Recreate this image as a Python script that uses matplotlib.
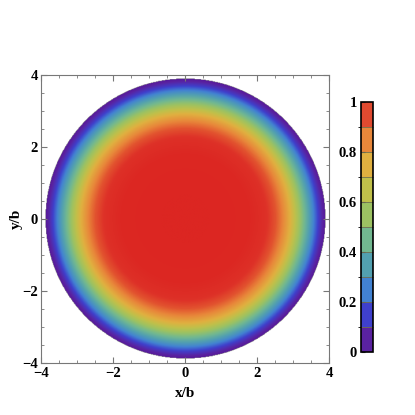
"""Radial density map with discrete colour legend."""
import matplotlib.pyplot as plt
import numpy as np
from matplotlib.colors import LinearSegmentedColormap, ListedColormap, BoundaryNorm
from matplotlib.ticker import MultipleLocator

# radial profile (r in units of b, value)
radius = [0.0, 1.8, 2.2, 2.5, 2.7, 2.9, 3.1, 3.3, 3.5, 3.7, 3.88]
value = [1.0, 0.99, 0.96, 0.91, 0.85, 0.75, 0.60, 0.45, 0.30, 0.13, 0.0]

# colour bands of the legend, bottom to top
band_colors = ["#5a22a0", "#3f40cc", "#4282d2", "#52a0b0", "#72b890",
               "#9cc262", "#c0c04a", "#e0b040", "#e8873a", "#e04a30"]
cbar_ticks = [0, 0.2, 0.4, 0.6, 0.8, 1]
axis_ticks = [-4, -2, 0, 2, 4]

plt.rcParams["font.family"] = ["Liberation Serif", "DejaVu Serif"]
plt.rcParams["font.weight"] = "bold"

cmap = LinearSegmentedColormap.from_list(
    "rainbow_m",
    [(0.0, "#56189a")] + [((i + 0.5) / 10, c) for i, c in enumerate(band_colors[:-1])]
    + [(0.95, "#de3228"), (1.0, "#dc2622")],
)

n = 500
xs = np.linspace(-4, 4, n)
X, Y = np.meshgrid(xs, xs)
R = np.hypot(X, Y)
Z = np.interp(R, radius, value)
Z = np.ma.masked_where(R > radius[-1], Z)

fig = plt.figure(figsize=(4.15, 4.15), dpi=100)
ax = fig.add_axes([41 / 415, 1 - 363 / 415, 288 / 415, 288 / 415])
ax.imshow(Z, extent=(-4, 4, -4, 4), origin="lower", cmap=cmap, vmin=0, vmax=1,
          interpolation="bilinear")
ax.set_xlim(-4, 4)
ax.set_ylim(-4, 4)
ax.set_xticks(axis_ticks)
ax.set_yticks(axis_ticks)
ax.set_xticklabels([str(t).replace("-", "\u2212") for t in axis_ticks])
ax.set_yticklabels([str(t).replace("-", "\u2212") for t in axis_ticks])
ax.xaxis.set_minor_locator(MultipleLocator(0.5))
ax.yaxis.set_minor_locator(MultipleLocator(0.5))
ax.tick_params(which="both", direction="in", top=True, right=True, color="#777777",
               labelsize=10.5)
ax.tick_params(axis="x", pad=3)
ax.tick_params(axis="y", pad=2)
ax.tick_params(which="major", length=4)
ax.tick_params(which="minor", length=2)
for s in ax.spines.values():
    s.set_color("#777777")
ax.set_xlabel("x/b", fontsize=11, fontweight="bold", labelpad=5)
ax.set_ylabel("y/b", fontsize=11, fontweight="bold", labelpad=0)

cax = fig.add_axes([361 / 415, 1 - 352 / 415, 12 / 415, 250 / 415])
bounds = np.linspace(0, 1, 11)
cb = fig.colorbar(plt.cm.ScalarMappable(norm=BoundaryNorm(bounds, 10), cmap=ListedColormap(band_colors)),
                  cax=cax, ticks=cbar_ticks, drawedges=True)
cb.dividers.set_color("#707050")
cb.dividers.set_linewidth(0.6)
cb.outline.set_linewidth(1.2)
cax.yaxis.set_ticks_position("left")
cax.tick_params(direction="in", length=3, labelsize=10.5, pad=3, color="#444444")
cax.set_yticklabels(["0", "0.2", "0.4", "0.6", "0.8", "1"])

fig.savefig("out.png", dpi=100)
